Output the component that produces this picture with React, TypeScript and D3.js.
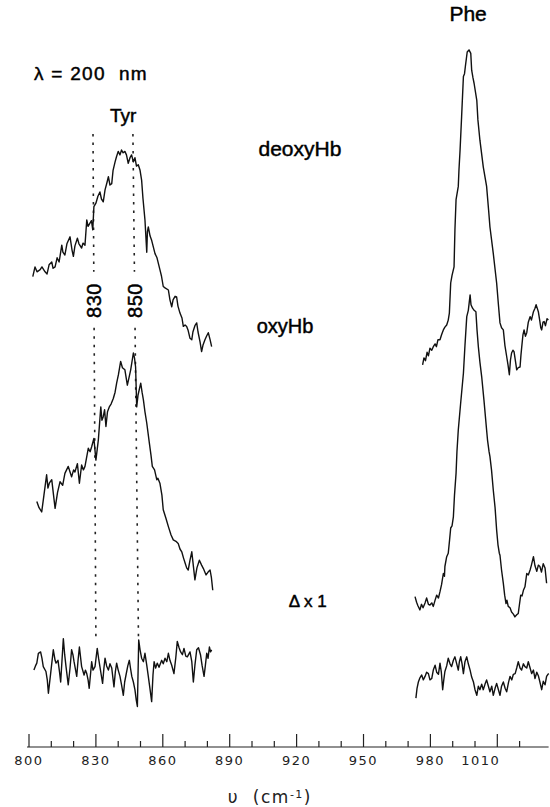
import React from "react";
import * as d3 from "d3";

// wavenumber axis ticks (cm-1)
const majorTicks = [800, 830, 860, 890, 920, 950, 980, 1010];
const minorTicks = [810, 820, 840, 850, 870, 880, 900, 910, 930, 940, 960, 970, 990, 1000, 1020];

// vertical offsets of the stacked spectra (arbitrary intensity units)
const traceOffsets = { deoxy: 55, oxy: 20, diff: 11 };

// [wavenumber, relative intensity]
const deoxyTyr: [number, number][] = [
  [801.7, 11.9], [802.7, 13.3], [803.6, 12.6], [805.0, 12.9], [805.8, 13.3], [807.2, 12.6], [808.1, 12.3], [809.0, 13.6],
  [810.2, 14.0], [810.8, 13.1], [811.7, 13.3], [812.6, 14.6], [813.5, 14.0], [814.7, 16.4], [815.2, 15.4], [816.1, 15.0],
  [817.0, 16.6], [818.4, 17.6], [819.3, 15.7], [819.9, 14.8], [820.6, 16.3], [821.7, 17.4], [822.4, 16.6], [823.6, 16.0],
  [824.2, 16.7], [825.1, 16.4], [825.9, 20.0], [826.5, 19.1], [827.4, 19.6], [828.0, 19.9], [828.6, 18.6], [829.1, 21.9],
  [830.0, 22.4], [830.9, 23.4], [831.8, 24.0], [832.5, 23.0], [833.3, 22.6], [834.1, 24.3], [835.0, 25.4], [835.6, 26.2],
  [836.3, 25.0], [837.1, 25.2], [837.7, 27.1], [838.6, 28.3], [839.2, 29.0], [840.0, 29.8], [840.8, 29.3], [841.5, 30.0],
  [842.2, 29.6], [843.0, 29.8], [843.7, 29.3], [844.5, 28.1], [845.3, 28.9], [846.0, 29.3], [846.8, 28.3], [847.5, 28.9],
  [848.2, 27.7], [849.0, 27.9], [849.8, 27.1], [850.5, 25.7], [851.1, 23.1], [852.0, 20.0], [852.8, 15.4], [853.1, 18.3],
  [853.5, 19.0], [854.3, 17.7], [855.0, 17.1], [855.8, 16.1], [856.5, 15.2], [857.4, 14.6], [858.7, 12.9], [859.4, 12.0],
  [860.2, 10.5], [861.0, 10.3], [862.5, 10.0], [863.2, 8.6], [864.0, 7.6], [864.6, 8.6], [865.5, 9.1], [866.2, 9.0],
  [866.8, 7.7], [867.7, 6.7], [868.6, 6.0], [869.2, 4.8], [870.0, 5.0], [870.7, 4.8], [871.3, 4.3], [872.2, 3.1],
  [873.0, 2.9], [873.5, 4.0], [874.4, 4.9], [875.2, 5.3], [875.8, 4.0], [876.7, 2.6], [877.4, 1.2], [878.0, 2.1],
  [878.9, 2.9], [879.6, 3.4], [880.4, 3.9], [881.2, 2.9], [881.9, 1.9],
];

const deoxyPhe: [number, number][] = [
  [976.5, -0.7], [977.1, 0.3], [977.8, -0.1], [978.5, 1.1], [979.1, 0.6], [979.8, 1.7], [980.6, 1.4], [981.3, 1.9],
  [982.1, 2.3], [982.7, 1.9], [983.4, 2.9], [984.3, 2.9], [985.0, 3.6], [985.8, 4.3], [986.5, 4.7], [987.3, 5.0],
  [988.0, 5.7], [988.5, 6.7], [989.1, 11.0], [989.7, 12.1], [990.6, 13.3], [991.0, 18.6], [991.5, 22.9], [992.5, 24.8],
  [992.8, 27.1], [993.3, 30.0], [994.0, 34.8], [994.8, 40.5], [995.3, 40.9], [995.7, 42.0], [996.5, 44.0], [997.3, 44.3],
  [998.1, 43.8], [998.5, 41.4], [999.1, 40.3], [999.6, 39.5], [1000.8, 37.1], [1001.3, 34.3], [1002.2, 31.4], [1003.7, 27.6],
  [1005.2, 24.8], [1006.1, 21.4], [1006.7, 19.0], [1008.2, 15.2], [1009.7, 11.0], [1010.5, 7.9], [1011.2, 5.3], [1011.9, 4.6],
  [1012.7, 4.3], [1013.4, 2.1], [1014.2, 0.5], [1014.8, -0.7], [1015.4, -2.1], [1015.9, 0.0], [1016.4, 1.0], [1017.0, 1.4],
  [1017.5, 1.2], [1018.2, -0.3], [1018.7, -1.4], [1019.4, -1.1], [1020.2, -1.0], [1020.6, 0.7], [1020.9, 1.7], [1021.5, 3.6],
  [1022.0, 4.3], [1022.6, 3.4], [1023.2, 3.9], [1023.9, 5.4], [1024.7, 6.2], [1025.3, 5.7], [1026.2, 6.9], [1026.9, 7.4],
  [1027.4, 7.9], [1028.0, 7.3], [1028.4, 6.9], [1029.0, 5.7], [1029.5, 4.6], [1029.9, 4.3], [1030.5, 5.4], [1031.0, 5.5],
  [1031.6, 4.9], [1032.3, 5.9], [1032.9, 5.7],
];

const oxyTyr: [number, number][] = [
  [803.5, 14.8], [804.5, 13.9], [805.7, 13.3], [806.7, 15.7], [807.9, 18.6], [808.5, 16.7], [809.1, 17.4], [810.2, 17.9],
  [811.0, 15.7], [811.7, 13.8], [812.8, 16.1], [813.9, 17.6], [815.1, 17.1], [816.1, 18.8], [817.6, 19.8], [818.4, 19.0],
  [819.1, 18.3], [820.0, 19.3], [820.6, 19.0], [821.7, 20.2], [822.6, 17.4], [823.6, 20.0], [824.4, 19.3], [825.1, 19.8],
  [826.6, 22.4], [827.4, 21.9], [828.1, 22.6], [829.1, 23.8], [830.0, 20.7], [831.1, 23.6], [832.2, 28.3], [832.7, 26.4],
  [833.3, 26.9], [833.9, 27.9], [834.5, 25.5], [835.2, 27.6], [836.0, 28.3], [836.8, 28.7], [837.8, 29.5], [838.6, 30.4],
  [839.3, 31.7], [840.1, 32.9], [841.1, 34.8], [841.9, 33.9], [843.0, 33.6], [844.1, 31.4], [844.8, 32.4], [845.6, 33.6],
  [846.8, 36.0], [847.3, 35.3], [847.8, 34.0], [848.3, 28.3], [848.9, 30.0], [850.1, 31.7], [850.7, 30.4], [851.3, 29.3],
  [852.0, 27.6], [852.8, 26.0], [853.9, 23.3], [854.7, 21.4], [855.3, 19.8], [856.3, 19.3], [857.3, 17.9], [857.8, 18.1],
  [858.7, 17.4], [859.6, 15.7], [860.2, 13.6], [861.4, 12.4], [862.5, 11.2], [863.7, 10.0], [864.7, 9.3], [865.9, 9.1],
  [866.9, 8.8], [867.7, 8.0], [868.5, 7.6], [869.3, 6.7], [870.0, 6.0], [870.7, 5.3], [871.4, 5.0], [872.2, 6.4],
  [873.0, 7.6], [873.8, 5.3], [874.4, 3.6], [875.3, 5.3], [876.4, 6.4], [877.4, 5.7], [878.2, 5.2], [879.4, 4.3],
  [880.3, 4.7], [881.2, 5.0], [881.8, 3.9], [882.4, 2.1],
];

const oxyPhe: [number, number][] = [
  [973.1, 1.2], [973.8, 0.4], [974.4, -0.1], [975.3, -0.7], [976.0, 0.1], [976.7, -0.4], [977.6, 0.3], [978.3, 1.0],
  [979.1, 0.1], [979.8, 0.0], [980.6, 0.3], [981.3, -0.2], [982.1, 0.7], [982.8, 1.4], [983.6, 1.0], [984.3, 1.9],
  [985.0, 2.9], [985.8, 4.5], [986.3, 4.1], [986.5, 5.5], [987.3, 6.9], [988.0, 7.4], [988.6, 9.3], [989.1, 11.0],
  [989.7, 11.3], [990.3, 12.6], [990.8, 15.7], [991.5, 18.8], [991.9, 21.9], [992.5, 25.0], [993.5, 28.6], [994.8, 33.1],
  [995.5, 37.1], [996.3, 41.2], [997.0, 42.1], [997.8, 44.3], [998.2, 42.9], [998.9, 42.4], [999.6, 42.1], [1000.4, 41.9],
  [1000.9, 39.3], [1001.5, 36.9], [1002.2, 34.7], [1003.0, 32.6], [1004.0, 29.3], [1005.2, 25.0], [1005.6, 23.6], [1006.3, 21.9],
  [1006.7, 21.2], [1007.4, 19.3], [1008.2, 16.4], [1009.0, 13.9], [1009.7, 10.7], [1010.3, 8.6], [1010.9, 7.4], [1011.2, 7.1],
  [1011.9, 5.0], [1012.7, 3.1], [1013.3, 1.4], [1013.9, 0.2], [1014.3, 0.7], [1014.9, -0.2], [1015.7, -0.4], [1016.4, -1.0],
  [1017.2, -1.3], [1017.9, -1.7], [1018.7, -1.4], [1019.4, -1.2], [1019.9, 0.0], [1020.5, 1.4], [1021.1, 1.3], [1021.7, 2.1],
  [1022.4, 2.6], [1023.2, 4.5], [1023.9, 4.3], [1024.7, 5.0], [1025.3, 5.7], [1026.2, 6.9], [1026.9, 5.6], [1027.7, 4.8],
  [1028.4, 5.7], [1029.1, 5.5], [1029.8, 4.7], [1030.6, 5.9], [1031.4, 5.3], [1032.1, 3.1],
];

const diffTyr: [number, number][] = [
  [802.2, -0.3], [802.9, 0.3], [803.5, 0.7], [804.2, 2.1], [805.2, 2.3], [805.8, 1.4], [806.4, 0.2], [807.6, -0.5],
  [808.2, -1.7], [808.7, -3.6], [809.7, -0.8], [810.3, 0.9], [810.9, 2.6], [811.7, 1.1], [812.1, 0.7], [813.0, 1.1],
  [813.7, -0.6], [814.2, -2.0], [814.8, 1.1], [815.4, 4.2], [816.0, 1.9], [816.6, 0.2], [817.6, -2.4], [818.4, 0.0],
  [819.1, 2.6], [819.7, 1.9], [820.2, 0.9], [821.4, -1.2], [822.0, 1.1], [822.6, 3.0], [823.6, 0.2], [824.7, -1.0],
  [825.3, -0.3], [825.9, -0.8], [826.5, -1.7], [827.0, -2.9], [828.1, 0.9], [828.7, -0.3], [829.6, 0.2], [830.6, 2.8],
  [831.2, 1.4], [831.8, 0.2], [832.4, -1.0], [833.0, -2.2], [833.6, 0.0], [834.1, 1.4], [834.8, 0.3], [835.6, -0.3],
  [836.3, 0.6], [837.1, 0.0], [838.1, -2.7], [838.7, -0.6], [839.3, 0.7], [840.0, -0.3], [840.8, -1.2], [841.6, -2.6],
  [842.3, -3.9], [842.9, -2.0], [843.5, -1.0], [844.3, 0.3], [845.0, 1.1], [845.5, 0.0], [846.1, -1.2], [846.8, -2.0],
  [847.5, -3.1], [848.1, -4.6], [848.6, -5.5], [849.2, 4.0], [849.8, 2.6], [850.5, 1.4], [851.3, 0.9], [852.0, 2.1],
  [852.8, 0.4], [853.5, -1.2], [854.3, -3.1], [855.0, -4.8], [855.6, -1.0], [856.1, 0.9], [856.8, 0.0], [857.5, 0.7],
  [858.3, 0.1], [859.5, 1.1], [860.2, 0.6], [861.0, 1.4], [861.8, 0.9], [862.5, 2.1], [863.2, 1.1], [864.0, 0.4],
  [865.0, -0.8], [865.8, 1.4], [866.5, 3.8], [867.3, 2.9], [868.0, 2.3], [868.8, 1.9], [869.5, 2.8], [870.3, 1.7],
  [871.0, 1.6], [872.2, 2.3], [873.0, 0.9], [873.7, -2.0], [874.4, 0.4], [875.2, 2.6], [876.0, 2.9], [876.9, 1.9],
  [877.6, 0.4], [878.5, -1.2], [879.1, 0.4], [879.7, 2.1], [880.3, 1.4], [880.9, 3.0], [881.4, 2.3], [881.9, 2.6],
];

const diffPhe: [number, number][] = [
  [973.5, -4.3], [974.0, -2.9], [974.6, -2.0], [975.3, -1.4], [976.1, -1.0], [976.8, -1.7], [977.6, -1.2], [978.3, -0.6],
  [979.1, -0.8], [979.8, -1.7], [980.6, -1.5], [981.3, -0.3], [982.1, 0.4], [982.8, -0.6], [983.6, -0.9], [984.3, 0.7],
  [984.9, -0.6], [985.5, -3.1], [986.0, -1.7], [986.5, -0.5], [987.3, 0.3], [988.0, 1.4], [988.8, 0.6], [989.5, 0.2],
  [990.3, 1.1], [991.0, 1.6], [991.8, 0.6], [992.5, -0.3], [993.0, 0.9], [993.6, 1.6], [994.2, 0.6], [994.8, -0.8],
  [995.5, 0.9], [996.3, 1.6], [997.0, 0.6], [997.8, -0.3], [998.5, -1.3], [999.3, -2.0], [1000.0, -3.1], [1000.8, -3.9],
  [1001.5, -2.6], [1002.2, -3.1], [1003.0, -2.3], [1003.7, -3.1], [1004.5, -2.3], [1005.2, -1.7], [1006.0, -2.6], [1006.7, -3.4],
  [1007.5, -2.6], [1008.2, -3.9], [1009.0, -2.9], [1009.7, -2.2], [1010.5, -3.1], [1011.2, -3.9], [1011.9, -2.6], [1012.7, -2.0],
  [1013.5, -2.9], [1014.2, -3.4], [1015.0, -2.1], [1015.7, -1.2], [1016.5, -1.7], [1017.2, -0.9], [1018.0, -0.8], [1018.7, 0.0],
  [1019.4, 0.9], [1020.2, 0.0], [1020.9, -0.3], [1021.7, 0.6], [1022.4, 0.2], [1023.2, 0.0], [1023.9, 0.9], [1024.7, 0.0],
  [1025.4, -0.8], [1026.2, -0.3], [1026.9, -1.5], [1027.7, -0.6], [1028.4, -1.1], [1029.1, -2.0], [1029.9, -3.1], [1030.6, -1.9],
  [1031.4, -2.4], [1032.1, -1.2], [1032.7, -0.9], [1033.1, -0.8],
];

// marker lines for the tyrosine doublet: [label, wavenumber at top, wavenumber at bottom]
const markerLines: [string, number, number][] = [
  ["830", 828.7, 830.0],
  ["850", 846.6, 849.1],
];

const W = 550;
const H = 807;

export default function App() {
  const x = d3.scaleLinear().domain([800, 1033]).range([29, 548.6]);
  const y = d3.scaleLinear().domain([0, 100]).range([745, 45]);
  const axisY = 747;

  const mk = (off: number) =>
    d3
      .line<[number, number]>()
      .x((d) => x(d[0]))
      .y((d) => y(d[1] + off));

  const traces: [string, [number, number][], number][] = [
    ["deoxyTyr", deoxyTyr, traceOffsets.deoxy],
    ["deoxyPhe", deoxyPhe, traceOffsets.deoxy],
    ["oxyTyr", oxyTyr, traceOffsets.oxy],
    ["oxyPhe", oxyPhe, traceOffsets.oxy],
    ["diffTyr", diffTyr, traceOffsets.diff],
    ["diffPhe", diffPhe, traceOffsets.diff],
  ];

  const labelFont = "'Liberation Sans', Arial, Helvetica, sans-serif";
  const axisFont = "'DejaVu Sans', Verdana, sans-serif";

  // marker line vertical extents in intensity units
  const lineTop = 87.3;
  const lineBottom = 15;
  const gapTop = 67.6;
  const gapBottom = 59.6;
  const labelMid = 63.5;

  const interp = (a: number, b: number, t: number) => a + (b - a) * t;

  const lbl = {
    fontFamily: labelFont,
    fill: "#000",
    stroke: "#000",
    strokeWidth: 0.45,
  } as const;

  return (
    <svg
      width={W}
      height={H}
      viewBox={`0 0 ${W} ${H}`}
      style={{ position: "absolute", left: 0, top: 0, background: "#fff" }}
    >
      <rect x={0} y={0} width={W} height={H} fill="#fff" />

      {/* marker dotted lines */}
      {markerLines.map(([lab, vTop, vBot]) => {
        const t = (u: number) => (lineTop - u) / (lineTop - lineBottom);
        const xa = (u: number) => x(interp(vTop, vBot, t(u)));
        return (
          <g key={lab}>
            <line
              x1={xa(lineTop)}
              y1={y(lineTop)}
              x2={xa(gapTop)}
              y2={y(gapTop)}
              stroke="#222"
              strokeWidth={1.6}
              strokeDasharray="2.5 6"
            />
            <line
              x1={xa(gapBottom)}
              y1={y(gapBottom)}
              x2={xa(lineBottom)}
              y2={y(lineBottom)}
              stroke="#222"
              strokeWidth={1.6}
              strokeDasharray="2.5 6"
            />
            <text
              transform={`translate(${xa(labelMid)},${y(labelMid)}) rotate(-90)`}
              textAnchor="middle"
              dominantBaseline="central"
              fontSize={20}
              letterSpacing={0.5}
              {...lbl}
            >
              {lab}
            </text>
          </g>
        );
      })}

      {/* spectra */}
      {traces.map(([key, data, off]) => (
        <path
          key={key}
          d={mk(off)(data) || ""}
          fill="none"
          stroke="#111"
          strokeWidth={1.4}
          strokeLinejoin="round"
        />
      ))}

      {/* annotations */}
      <text x={x(802.2)} y={y(95)} fontSize={19} letterSpacing={1.3} {...lbl} style={{ whiteSpace: "pre" }}>
        {"λ = 200  nm"}
      </text>
      <text x={x(842.2)} y={y(89)} textAnchor="middle" fontSize={19} {...lbl}>
        Tyr
      </text>
      <text x={x(996.9)} y={y(103.4)} textAnchor="middle" fontSize={21} {...lbl}>
        Phe
      </text>
      <text x={x(921.5)} y={y(84.1)} textAnchor="middle" fontSize={21} {...lbl}>
        deoxyHb
      </text>
      <text x={x(914.8)} y={y(58.9)} textAnchor="middle" fontSize={20} {...lbl}>
        oxyHb
      </text>
      <text x={x(925)} y={y(19.7)} textAnchor="middle" fontSize={17} {...lbl} style={{ whiteSpace: "pre" }}>
        {"Δ x 1"}
      </text>

      {/* x axis */}
      <line x1={x(800) - 2} y1={axisY} x2={x(1033)} y2={axisY} stroke="#222" strokeWidth={1.2} />
      {majorTicks.map((t) => (
        <line key={`M${t}`} x1={x(t)} y1={axisY} x2={x(t)} y2={axisY - 13} stroke="#222" strokeWidth={1.2} />
      ))}
      {minorTicks.map((t) => (
        <line key={`m${t}`} x1={x(t)} y1={axisY} x2={x(t)} y2={axisY - 6} stroke="#222" strokeWidth={1.2} />
      ))}
      {majorTicks.map((t) => (
        <text
          key={`L${t}`}
          x={t >= 1000 ? x(t) + 3 : x(t)}
          y={axisY + 18}
          textAnchor={t >= 1000 ? "end" : "middle"}
          fontFamily={axisFont}
          fontSize={13}
          letterSpacing={1.5}
          fill="#222"
        >
          {t}
        </text>
      ))}
      <text
        x={x(908)}
        y={803}
        textAnchor="middle"
        fontFamily={axisFont}
        fontSize={17}
        fill="#222"
        letterSpacing={1.5}
      >
        <tspan style={{ whiteSpace: "pre" }}>{"υ  (cm"}</tspan>
        <tspan fontSize={11} dy={-5}>
          -1
        </tspan>
        <tspan dy={5}>)</tspan>
      </text>
    </svg>
  );
}
